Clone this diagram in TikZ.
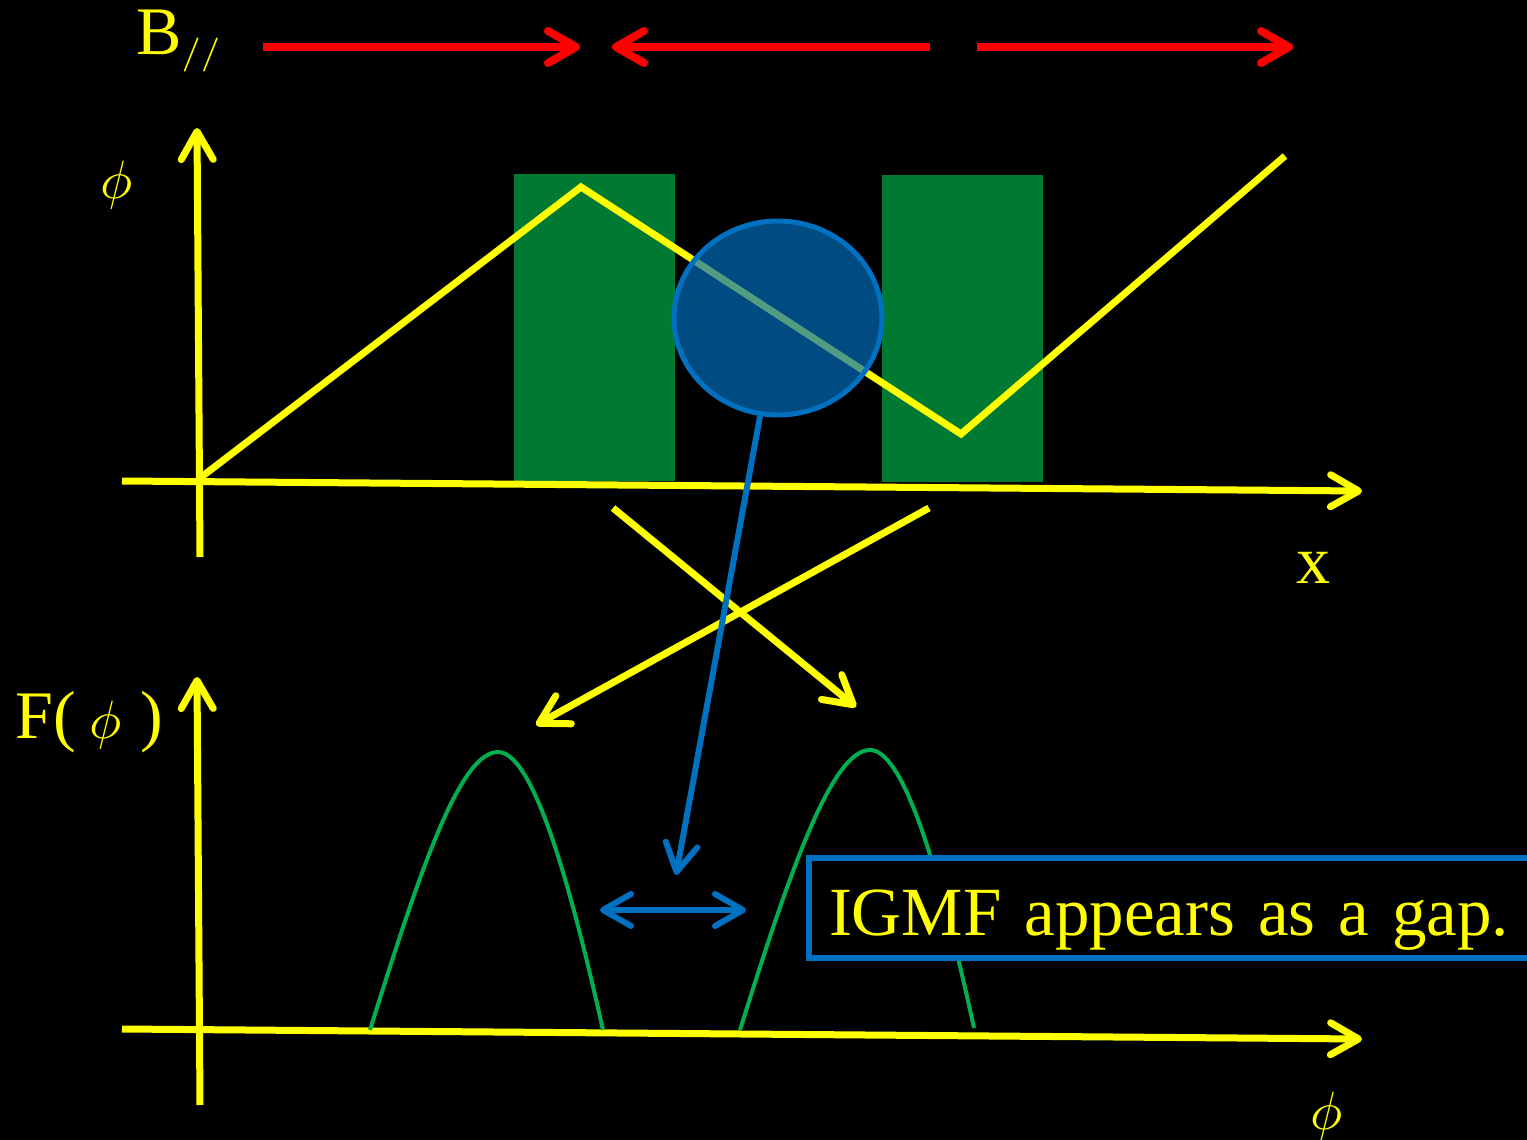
\documentclass[tikz,border=0pt]{standalone}
\usepackage{fontspec}
\setmainfont{Liberation Serif}
\usetikzlibrary{arrows.meta,shapes.geometric}
\definecolor{ylw}{RGB}{255,255,0}
\definecolor{rd}{RGB}{255,0,0}
\definecolor{grnrect}{RGB}{0,122,51}
\definecolor{grncurve}{RGB}{0,176,80}
\definecolor{blu}{RGB}{0,112,192}
\newcommand{\bigphi}{{\fontsize{10}{12}\selectfont\scalebox{5.4}{$\phi$}}}
\begin{document}
\begin{tikzpicture}[x=1pt,y=-1pt,
  tipbarb/.style={-{Straight Barb[length=28pt,width=32pt,round]}},
  axisline/.style={ylw,line width=7pt,tipbarb},
  redarrow/.style={rd,line width=8pt,tipbarb},
  bluearrow/.style={blu,line width=6pt},
  lbl/.style={text=ylw,inner sep=0pt,font=\fontsize{68}{70}\selectfont},
  philbl/.style={text=ylw,inner sep=0pt},
  peak/.style={grncurve,line width=4pt}]
\fill[black] (0,0) rectangle (1527,1140);
\useasboundingbox (0,0) rectangle (1527,1140);
\clip (0,0) rectangle (1527,1140);

% B label and red arrows
\node[lbl,anchor=base west] (blbl) at (136,55) {B{\fontsize{10}{12}\selectfont\scalebox{4.86}{$_{//}$}}};
\coordinate (r1s) at (263,47); \coordinate (r1e) at (580,47);
\coordinate (r2s) at (930,47); \coordinate (r2e) at (612,47);
\coordinate (r3s) at (977,47); \coordinate (r3e) at (1293,47);
\draw[redarrow] (r1s) -- (r1e);
\draw[redarrow] (r2s) -- (r2e);
\draw[redarrow] (r3s) -- (r3e);

% green rectangles
\fill[grnrect] (514,174) rectangle (675,481);
\fill[grnrect] (882,175) rectangle (1043,482);

% upper axes
\coordinate (uy0) at (200,557); \coordinate (uy1) at (197,128);
\coordinate (ux0) at (122,481); \coordinate (ux1) at (1362,491);
\draw[axisline] (uy0) -- (uy1);
\draw[axisline] (ux0) -- (ux1);
\node[philbl] (phiu) at (117,185) {\bigphi};
\node[lbl,anchor=base] (xlbl) at (1313,583) {x};

% zigzag
\coordinate (z0) at (200,478); \coordinate (z1) at (581,187);
\coordinate (z2) at (961,434); \coordinate (z3) at (1285,156);
\draw[ylw,line width=7pt] (z0) -- (z1) -- (z2) -- (z3);

% circle
\node[ellipse,draw=blu,line width=5pt,fill=blu,fill opacity=0.68,draw opacity=1,
      minimum width=208pt,minimum height=194pt,inner sep=0pt] (circ) at (778,318) {};

% crossing yellow arrows
\coordinate (c1s) at (613,508); \coordinate (c1e) at (856,707);
\coordinate (c2s) at (929,508); \coordinate (c2e) at (536,725);
\draw[axisline] (c1s) -- (c1e);
\draw[axisline] (c2s) -- (c2e);

% lower axes
\coordinate (ly0) at (200,1105); \coordinate (ly1) at (197,677);
\coordinate (lx0) at (122,1029); \coordinate (lx1) at (1362,1039);
\draw[axisline] (ly0) -- (ly1);
\draw[axisline] (lx0) -- (lx1);
\node[lbl,anchor=base west] (flbl) at (15,738) {F(\hspace{14pt}\bigphi\hspace{19pt})};
\node[philbl] (phil) at (1327,1116) {\bigphi};

% distributions
\draw[peak] (370,1030) .. controls (420,870) and (460,752) .. (498,752)
            .. controls (530,752) and (565,860) .. (603,1030);
\draw[peak] (740,1030) .. controls (790,870) and (832,750) .. (870,750)
            .. controls (902,750) and (937,858) .. (974,1028);

% blue connectors
\coordinate (btip) at (676,875);
\draw[bluearrow,tipbarb] (circ) -- (btip);
\coordinate (g0) at (600,910); \coordinate (g1) at (746,910);
\draw[bluearrow,{Straight Barb[length=28pt,width=32pt,round]}-{Straight Barb[length=28pt,width=32pt,round]}] (g0) -- (g1);

% text box
\node[draw=blu,line width=6pt,fill=black,anchor=west,text=ylw,
      text width=720pt,align=left,inner xsep=20pt,minimum height=100pt,
      text height=54pt,text depth=0pt,
      font=\fontsize{69}{71}\selectfont] (box) at (806,908) {IGMF appears as a gap.};
\end{tikzpicture}
\end{document}
